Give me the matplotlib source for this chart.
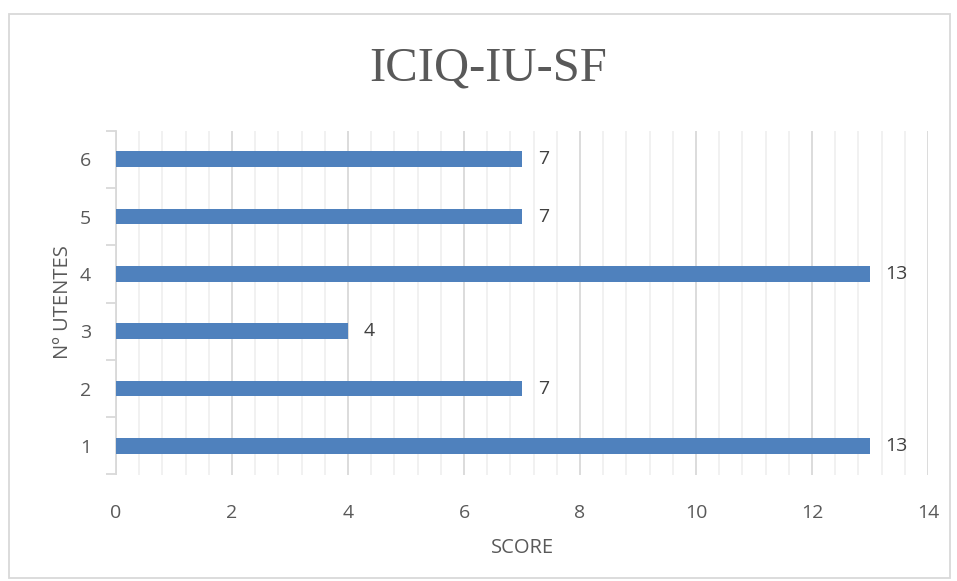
import numpy as np
import matplotlib.pyplot as plt
from matplotlib.patches import Rectangle
from matplotlib.ticker import MultipleLocator

# dados do gráfico
utentes = [1, 2, 3, 4, 5, 6]
score = [13, 7, 4, 13, 7, 7]
titulo = "ICIQ-IU-SF"

plt.rcParams['font.family'] = ['Open Sans', 'DejaVu Sans']
cinza = '#595959'

fig = plt.figure(figsize=(9.57, 5.81), dpi=100)
ax = fig.add_axes([116 / 957, 1 - 474.5 / 581, 812 / 957, 344 / 581])

ax.barh(utentes, score, height=0.27, color='#4f81bd', zorder=3)
for y, v in zip(utentes, score):
    ax.text(v + 0.27, y, str(v), va='center', ha='left', fontsize=14, color='#404040')

ax.set_xlim(0, 14)
ax.set_ylim(0.5, 6.5)
ax.xaxis.set_major_locator(MultipleLocator(2))
ax.xaxis.set_minor_locator(MultipleLocator(0.4))
ax.grid(axis='x', which='major', color='#d9d9d9', lw=1.3, zorder=0)
ax.grid(axis='x', which='minor', color='#f0f0f0', lw=1.3, zorder=0)
ax.tick_params(axis='x', which='both', length=0, pad=21, labelsize=14, colors=cinza)

# rótulos no centro, marcas nas fronteiras
ax.set_yticks(utentes)
ax.set_yticks(np.arange(0.5, 7, 1), minor=True)
ax.tick_params(axis='y', which='major', length=0, pad=18, labelsize=14, colors=cinza)
ax.tick_params(axis='y', which='minor', length=7, width=1.3, color='#d9d9d9')

for s in ['top', 'right', 'bottom']:
    ax.spines[s].set_visible(False)
ax.spines['left'].set_color('#d9d9d9')
ax.spines['left'].set_linewidth(1.3)

ax.set_xlabel('SCORE', fontsize=14.5, color=cinza, labelpad=12)
ax.set_ylabel('Nº UTENTES', fontsize=14.5, color=cinza, labelpad=5)

fig.text(488 / 957, 1 - 68 / 581, titulo, ha='center', va='center', fontsize=35,
         color=cinza, family=['Liberation Serif', 'DejaVu Serif'])

fig.patches.append(Rectangle((9 / 957, 3 / 581), 941 / 957, 564 / 581, transform=fig.transFigure,
                             fill=False, edgecolor='#d9d9d9', lw=1.3))

fig.savefig('out.png', dpi=100)
